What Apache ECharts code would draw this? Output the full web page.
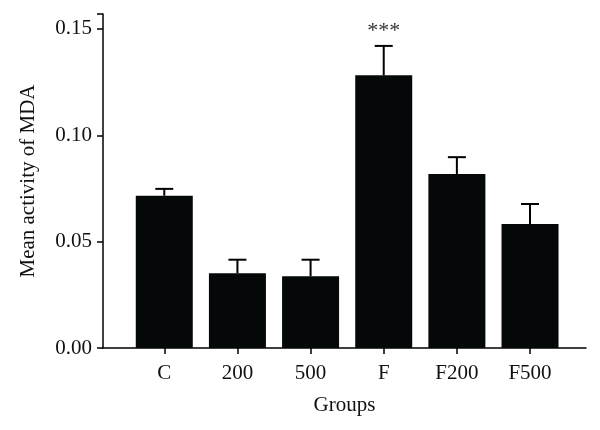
<!DOCTYPE html>
<html>
<head>
<meta charset="utf-8">
<script src="https://cdn.jsdelivr.net/npm/echarts@6/dist/echarts.min.js"></script>
<style>
  html, body { margin: 0; padding: 0; background: #fff; }
  #chart { width: 600px; height: 430px; }
</style>
</head>
<body>
<div id="chart"></div>
<script>
const groups = ['C', '200', '500', 'F', 'F200', 'F500'];
const meanMDA = [0.0716, 0.0351, 0.0337, 0.1282, 0.0818, 0.0583];
const errMDA = [0.0032, 0.0064, 0.0078, 0.0138, 0.0079, 0.0094];
const signif = ['', '', '', '***', '', ''];
const yTicks = [0, 0.05, 0.10, 0.15];

const font = 'Liberation Serif';
const yMax = 0.157;

let chart = echarts.init(document.getElementById('chart'));

chart.setOption({
  animation: false,
  grid: [
    // outer grid: axis lines and y labels
    {left: 103, right: 14, top: 14, bottom: 82},
    // inner grid: category bands
    {left: 127.7, right: 33.4, top: 14, bottom: 82}
  ],
  xAxis: [
    {
      gridIndex: 0,
      type: 'value',
      min: 0,
      max: 1,
      name: 'Groups',
      nameLocation: 'middle',
      nameGap: 47,
      nameTextStyle: {fontFamily: font, fontSize: 21, color: '#111'},
      axisLine: {show: true, onZero: false, lineStyle: {color: '#000', width: 1.5}},
      axisTick: {show: false},
      axisLabel: {show: false},
      splitLine: {show: false}
    },
    {
      gridIndex: 1,
      type: 'category',
      data: groups,
      axisLine: {show: false},
      axisTick: {show: true, alignWithLabel: true, length: 6, lineStyle: {color: '#000', width: 1.5}},
      axisLabel: {fontFamily: font, fontSize: 21, color: '#111', margin: 15},
      splitLine: {show: false}
    }
  ],
  yAxis: [
    {
      gridIndex: 0,
      type: 'value',
      min: 0,
      max: yMax,
      interval: 0.05,
      name: 'Mean activity of MDA',
      nameLocation: 'middle',
      nameGap: 64,
      nameTextStyle: {fontFamily: font, fontSize: 21, color: '#111'},
      axisLine: {show: true, lineStyle: {color: '#000', width: 1.5}},
      axisTick: {show: true, length: 6, lineStyle: {color: '#000', width: 1.5}},
      axisLabel: {
        fontFamily: font, fontSize: 21, color: '#111', margin: 11,
        formatter: function (v) {
          return yTicks.some(t => Math.abs(t - v) < 1e-9) ? v.toFixed(2) : '';
        }
      },
      splitLine: {show: false}
    },
    {
      gridIndex: 1,
      type: 'value',
      min: 0,
      max: yMax,
      show: false
    }
  ],
  series: [
    {
      type: 'bar',
      xAxisIndex: 1,
      yAxisIndex: 1,
      data: meanMDA,
      barWidth: 57,
      itemStyle: {color: '#050808'}
    },
    {
      type: 'custom',
      xAxisIndex: 1,
      yAxisIndex: 1,
      z: 5,
      data: groups.map((g, i) => [i, meanMDA[i], meanMDA[i] + errMDA[i]]),
      renderItem: function (params, api) {
        let i = api.value(0);
        let top = api.coord([i, api.value(1)]);
        let hi = api.coord([i, api.value(2)]);
        let capW = 9;
        let children = [
          {type: 'line', shape: {x1: top[0], y1: top[1], x2: hi[0], y2: hi[1]},
            style: {stroke: '#000', lineWidth: 2}},
          {type: 'line', shape: {x1: hi[0] - capW, y1: hi[1], x2: hi[0] + capW, y2: hi[1]},
            style: {stroke: '#000', lineWidth: 2}}
        ];
        if (signif[i]) {
          children.push({
            type: 'text',
            style: {
              text: signif[i], x: hi[0], y: hi[1] - 4,
              align: 'center', verticalAlign: 'bottom',
              font: '22px "' + font + '"', fill: '#333'
            }
          });
        }
        return {type: 'group', children: children};
      }
    }
  ]
});
</script>
</body>
</html>
